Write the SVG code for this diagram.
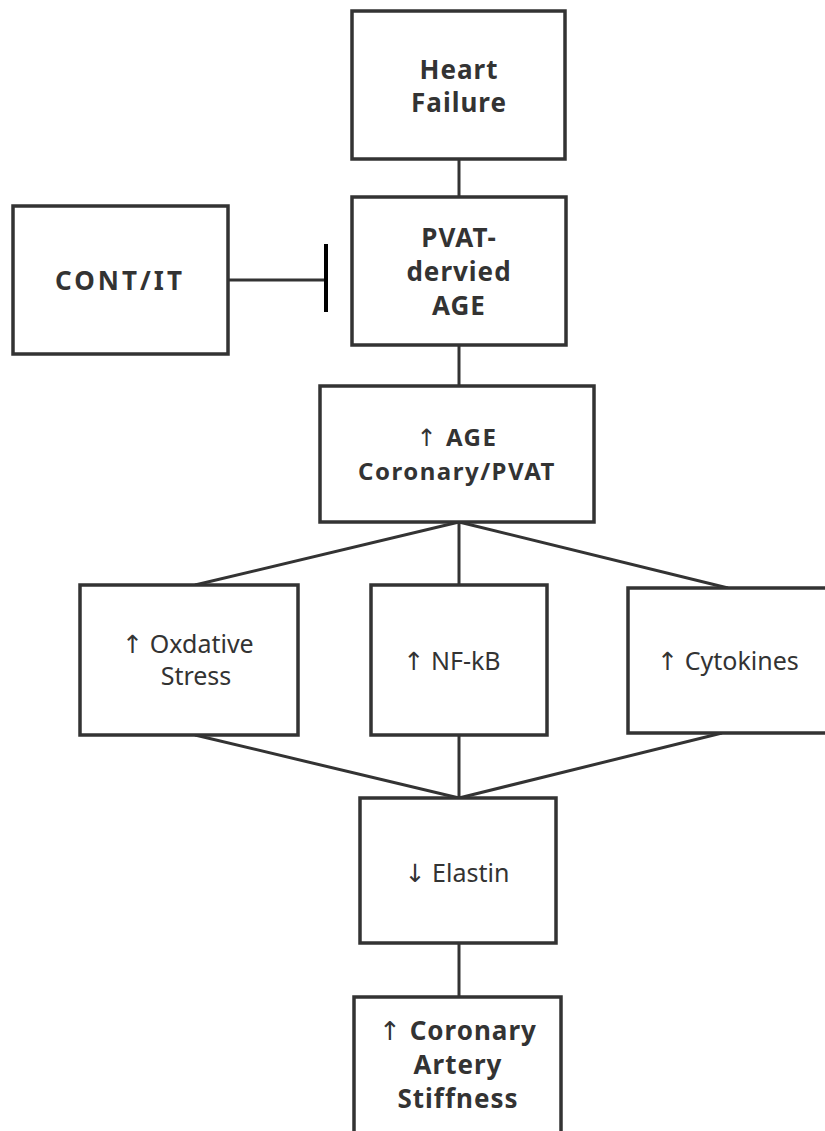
<svg xmlns="http://www.w3.org/2000/svg" width="825" height="1131" viewBox="0 0 825 1131">
<style>
.box{fill:#fff;stroke:#333;stroke-width:3.5}
.ln{stroke:#333;stroke-width:3;fill:none}
.b{font-family:"Noto Sans","Open Sans",sans-serif;font-weight:700;font-size:26px;fill:#333;text-anchor:middle;letter-spacing:1px}
.r{font-family:"Noto Sans","Open Sans",sans-serif;font-weight:400;font-size:25px;fill:#333;text-anchor:middle}
.ar{font-family:"DejaVu Sans",sans-serif;font-weight:400}
</style>
<rect width="825" height="1131" fill="#fff"/>
<g id="connectors">
<line class="ln" x1="459" y1="159" x2="459" y2="197"/>
<line class="ln" x1="459" y1="345" x2="459" y2="386"/>
<line class="ln" x1="228" y1="280" x2="326" y2="280"/>
<line x1="326" y1="244" x2="326" y2="312" stroke="#000" stroke-width="4"/>
<line class="ln" x1="459" y1="522" x2="195" y2="585"/>
<line class="ln" x1="459" y1="522" x2="459" y2="585"/>
<line class="ln" x1="459" y1="522" x2="728" y2="588"/>
<line class="ln" x1="195" y1="735" x2="459" y2="798"/>
<line class="ln" x1="459" y1="735" x2="459" y2="798"/>
<line class="ln" x1="722" y1="733" x2="459" y2="798"/>
<line class="ln" x1="459" y1="943" x2="459" y2="997"/>
</g>
<g id="heart-failure">
<rect class="box" x="352" y="11" width="213" height="148"/>
<text class="b" x="459" y="79">Heart</text>
<text class="b" x="459" y="112">Failure</text>
</g>
<g id="pvat-age">
<rect class="box" x="352" y="197" width="214" height="148"/>
<text class="b" x="459" y="247">PVAT-</text>
<text class="b" x="459" y="281">dervied</text>
<text class="b" x="459" y="315">AGE</text>
</g>
<g id="cont-it">
<rect class="box" x="13" y="206" width="215" height="148"/>
<text class="b" x="120" y="290" style="letter-spacing:3px">CONT/IT</text>
</g>
<g id="age-coronary">
<rect class="box" x="320" y="386" width="274" height="136"/>
<text class="b" x="457" y="446" style="font-size:24px;letter-spacing:1.5px"><tspan class="ar">↑</tspan> AGE</text>
<text class="b" x="457" y="480" style="font-size:24px;letter-spacing:1.5px">Coronary/PVAT</text>
</g>
<g id="oxidative">
<rect class="box" x="80" y="585" width="218" height="150"/>
<text class="r" x="188" y="653"><tspan class="ar">↑</tspan> Oxdative</text>
<text class="r" x="196" y="685">Stress</text>
</g>
<g id="nfkb">
<rect class="box" x="371" y="585" width="176" height="150"/>
<text class="r" x="452" y="670"><tspan class="ar">↑</tspan> NF-kB</text>
</g>
<g id="cytokines">
<rect class="box" x="628" y="588" width="210" height="145"/>
<text class="r" x="728" y="670"><tspan class="ar">↑</tspan> Cytokines</text>
</g>
<g id="elastin">
<rect class="box" x="360" y="798" width="196" height="145"/>
<text class="r" x="457" y="882"><tspan class="ar">↓</tspan> Elastin</text>
</g>
<g id="stiffness">
<rect class="box" x="354" y="997" width="207" height="150"/>
<text class="b" x="458" y="1040"><tspan class="ar">↑</tspan> Coronary</text>
<text class="b" x="458" y="1074">Artery</text>
<text class="b" x="458" y="1108">Stiffness</text>
</g>
</svg>
